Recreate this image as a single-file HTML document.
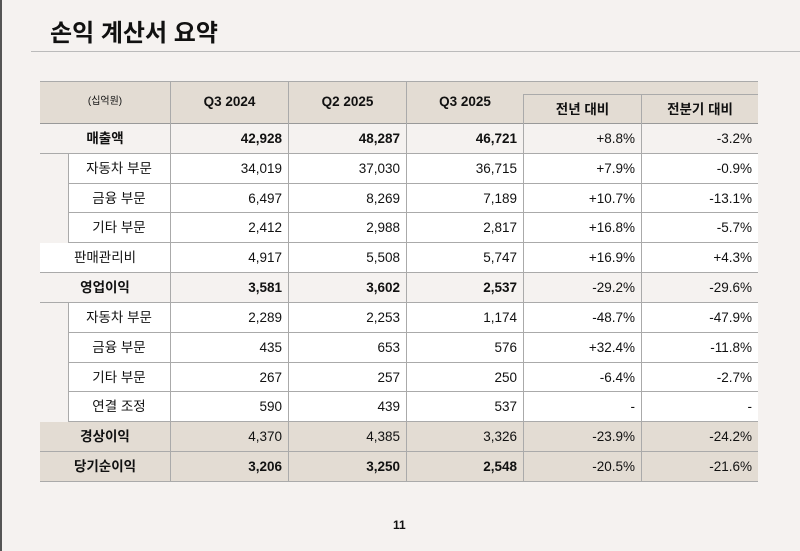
<!DOCTYPE html>
<html><head><meta charset="utf-8"><style>
body{margin:0;width:800px;height:551px;background:#f5f2f0;position:relative;overflow:hidden;font-family:"Liberation Sans","Noto Sans CJK KR",sans-serif;color:#111}
.lb{position:absolute;left:0;top:0;width:2px;height:551px;background:#555}
h1{position:absolute;left:50px;top:13px;margin:0;font-size:24px;font-weight:bold;letter-spacing:0px}
.hl{position:absolute;left:31px;top:51px;width:769px;height:1px;background:#bbb}
.c{position:absolute;box-sizing:border-box;font-size:13.5px;line-height:29px;white-space:nowrap}
.n{text-align:right;padding-right:6px}
.t{text-align:center}
.b{font-weight:bold}
.pg{position:absolute;left:393px;top:518px;font-size:12px;font-weight:bold}
</style></head><body>
<div class="lb"></div>
<h1>손익 계산서 요약</h1>
<div class="hl"></div>
<div id="tb"></div>
<div class="c" style="left:40px;top:81px;width:718px;height:43px;background:#e3dcd3;border-top:1px solid #aaa;border-bottom:1px solid #999"></div>
<div class="c t" style="left:40px;top:81px;width:130px;height:43px;line-height:42px;font-size:10px">(십억원)</div>
<div class="c t b" style="left:170px;top:81px;width:118px;height:43px;line-height:42px;border-left:1px solid #aaa">Q3 2024</div>
<div class="c t b" style="left:288px;top:81px;width:118px;height:43px;line-height:42px;border-left:1px solid #aaa">Q2 2025</div>
<div class="c t b" style="left:406px;top:81px;width:117px;height:43px;line-height:42px;border-left:1px solid #aaa">Q3 2025</div>
<div class="c t b" style="left:523px;top:94px;width:118px;height:30px;border-left:1px solid #aaa;border-top:1px solid #aaa">전년 대비</div>
<div class="c t b" style="left:641px;top:94px;width:117px;height:30px;border-left:1px solid #aaa;border-top:1px solid #aaa">전분기 대비</div>
<script>
var rows=[
["매출액","42,928","48,287","46,721","+8.8%","-3.2%","m"],
["자동차 부문","34,019","37,030","36,715","+7.9%","-0.9%","s"],
["금융 부문","6,497","8,269","7,189","+10.7%","-13.1%","s"],
["기타 부문","2,412","2,988","2,817","+16.8%","-5.7%","s"],
["판매관리비","4,917","5,508","5,747","+16.9%","+4.3%","w"],
["영업이익","3,581","3,602","2,537","-29.2%","-29.6%","m"],
["자동차 부문","2,289","2,253","1,174","-48.7%","-47.9%","s"],
["금융 부문","435","653","576","+32.4%","-11.8%","s"],
["기타 부문","267","257","250","-6.4%","-2.7%","s"],
["연결 조정","590","439","537","-","-","s"],
["경상이익","4,370","4,385","3,326","-23.9%","-24.2%","g"],
["당기순이익","3,206","3,250","2,548","-20.5%","-21.6%","gb"]];
var ys=[124,154,184,213,243,273,303,333,363,392,422,452,482];
var h="",xs=[170,288,406,523,641,758];
rows.forEach(function(r,i){
 var y=ys[i],hh=ys[i+1]-ys[i];
 var k=r[6],bg=(k=="m")?"#f5f2f0":(k[0]=="g")?"#e3dcd3":"#fff";
 var lx=(k=="s")?68:40,bold=(k=="m"||k=="gb");
 h+='<div class="c" style="left:'+lx+'px;top:'+y+'px;width:'+(758-lx)+'px;height:'+hh+'px;background:'+bg+';border-bottom:1px solid #aaa;'+(k=="s"?'border-left:1px solid #aaa;':'')+'"></div>';
 h+='<div class="c t'+(k!="s"&&k!="w"?' b':'')+'" style="left:'+lx+'px;top:'+y+'px;width:'+(170-lx)+'px;height:'+hh+'px">'+r[0]+'</div>';
 for(var j=0;j<5;j++){
  var b=bold&&j<3;
  h+='<div class="c n'+(b?' b':'')+'" style="left:'+xs[j]+'px;top:'+y+'px;width:'+(xs[j+1]-xs[j])+'px;height:'+hh+'px;border-left:1px solid #aaa;border-bottom:1px solid #aaa">'+r[j+1]+'</div>';
 }
});
document.getElementById("tb").innerHTML=h;
</script>
<div class="pg">11</div>
</body></html>
